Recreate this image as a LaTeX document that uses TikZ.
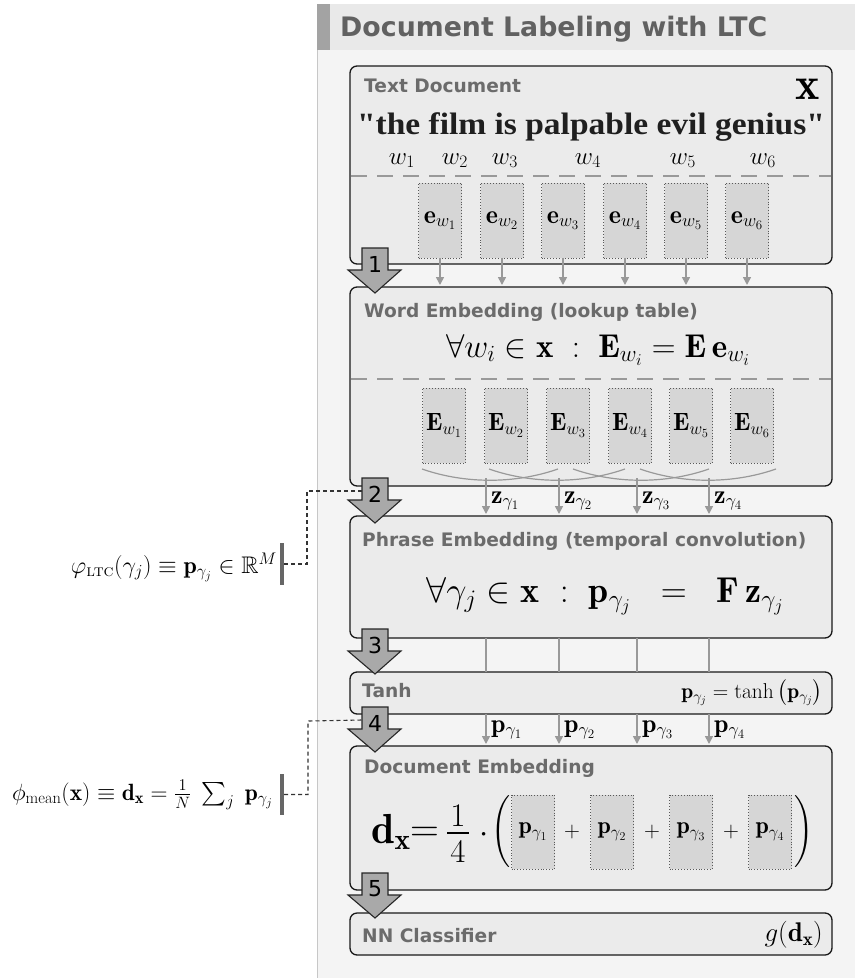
\RequirePackage{fix-cm}
\documentclass[tikz,border=0pt]{standalone}
\usepackage{fontspec}
\usepackage{amsmath,amssymb}
\usetikzlibrary{arrows.meta,calc}
\newfontfamily\dv{DejaVu Sans}
\newfontfamily\qf[FakeStretch=1.08]{Liberation Serif}
\definecolor{panel}{HTML}{F4F4F4}
\definecolor{header}{HTML}{E9E9E9}
\definecolor{hbar}{HTML}{A3A3A3}
\definecolor{boxfill}{HTML}{EBEBEB}
\definecolor{cellfill}{HTML}{D6D6D6}
\definecolor{titlegray}{HTML}{6B6B6B}
\definecolor{conn}{HTML}{999999}
\definecolor{bigarrow}{HTML}{A9A9A9}
\newcommand\fsz[1]{\fontsize{#1}{#1}\selectfont}
\tikzset{
 stage/.style={draw=black!90, line width=1.3pt, rounded corners=7pt, fill=boxfill, inner sep=0pt, outer sep=0pt, minimum width=482pt},
 cell/.style={draw=black!65, dotted, line width=0.9pt, fill=cellfill, minimum width=43pt, inner sep=0pt},
 stagetitle/.style={anchor=base west, inner sep=0pt, text=titlegray, font=\dv\bfseries\fsz{18.6}},
 sepline/.style={draw=conn, line width=1.6pt, dash pattern=on 16pt off 10pt},
 flow/.style={draw=conn, line width=1.6pt, -{Triangle[length=8pt,width=8pt]}},
 plainconn/.style={draw=conn, line width=1.6pt},
 bigarr/.style={fill=bigarrow, draw=black!85, line width=1.1pt, line join=miter},
 note/.style={draw=black!80, line width=1.1pt, dash pattern=on 4pt off 3pt},
 notebar/.style={fill=black!60, minimum width=4pt, inner sep=0pt, outer sep=0pt},
 lbl/.style={anchor=base west, inner sep=0pt, font=\fsz{26}},
}
\begin{document}
\begin{tikzpicture}[x=1pt,y=-1pt]
\useasboundingbox[fill=white] (0,0) rectangle (855,978);
% panel
\fill[panel] (317,50) rectangle (855,978);
\fill[header] (317,4) rectangle (855,50);
\fill[hbar] (317,4) rectangle (330,50);
\draw[black!22, line width=1pt] (317.5,50) -- (317.5,978);
\node[anchor=base west, inner sep=0pt, font=\dv\bfseries\fsz{26.8}, text=black!62] (title) at (340,36) {Document Labeling with LTC};

% stage boxes
\node[stage, minimum height=198pt] (td) at (591,165) {};
\node[stage, minimum height=199pt] (we) at (591,386.5) {};
\node[stage, minimum height=122pt] (pe) at (591,577) {};
\node[stage, minimum height=42pt] (th) at (591,693) {};
\node[stage, minimum height=144pt] (de) at (591,818) {};
\node[stage, minimum height=42pt] (nn) at (591,934) {};

% Text document
\node[stagetitle] (tdt) at (364,92) {Text Document};
\node[anchor=base east, inner sep=0pt, font=\fsz{46}] (xvec) at (820,99) {$\mathbf{x}$};
\node[anchor=base, inner sep=0pt, font=\qf\bfseries\fsz{31}, text=black!88] (quote) at (591,134) {"the film is palpable evil genius"};
\foreach \x/\i in {402/1,455/2,505/3,588/4,683/5,763/6}
  \node[anchor=base, inner sep=0pt, font=\fsz{25}] (w\i) at (\x,164) {$w_{\i}$};
\draw[sepline] (351,176) -- (831,176);
\foreach \x/\i in {440/1,502/2,563/3,625/4,686/5,747/6}
  \node[cell, minimum height=75pt, font=\fsz{26}] (e\i) at (\x,220.5) {$\mathbf{e}_{w_{\i}}$};
\foreach \i in {1,...,6}
  \draw[flow, shorten >=2pt] (e\i.south) -- (e\i.south |- we.north);

% Word embedding
\node[stagetitle] (wet) at (364,317) {Word Embedding (lookup table)};
\node[anchor=base, inner sep=0pt, font=\fsz{33}] (weq) at (598,357) {$\forall w_i \in \mathbf{x} \;:\; \mathbf{E}_{w_i} = \mathbf{E}\,\mathbf{e}_{w_i}$};
\draw[sepline] (351,379) -- (831,379);
\foreach \x/\i in {444/1,506/2,568/3,630/4,691/5,752/6}
  \node[cell, minimum height=75pt, font=\fsz{25}] (E\i) at (\x,425.5) {$\mathbf{E}_{w_{\i}}$};
\foreach \x in {490,557,641,708}
  \draw[plainconn, line width=1.2pt] (\x-68,469) .. controls (\x-25,484) and (\x+25,484) .. (\x+68,469);
\foreach \x/\i in {486/1,559/2,637/3,709/4}{
  \coordinate (zs\i) at (\x,478);
  \draw[flow, shorten >=2pt] (zs\i) -- (zs\i |- pe.north);
  \node[lbl] (zl\i) at (\x+5,503) {$\mathbf{z}_{\gamma_{\i}}$};
}

% Phrase embedding
\node[stagetitle] (pet) at (362,546) {Phrase Embedding (temporal convolution)};
\node[anchor=base, inner sep=0pt, font=\fsz{36}] (peq) at (605,602) {$\forall\gamma_j \in \mathbf{x} \;:\; \mathbf{p}_{\gamma_j} \;\;=\;\; \mathbf{F}\,\mathbf{z}_{\gamma_j}$};
\foreach \i in {1,...,4}
  \draw[plainconn] (zs\i |- pe.south) -- (zs\i |- th.north);

% Tanh
\node[stagetitle] (tht) at (362,697) {Tanh};
\node[anchor=base east, inner sep=0pt, font=\fsz{21.5}] (theq) at (823,698) {$\mathbf{p}_{\gamma_j} = \tanh\left(\mathbf{p}_{\gamma_j}\right)$};
\foreach \x/\i in {486/1,559/2,637/3,709/4}{
  \draw[flow, shorten >=2pt] (zs\i |- th.south) -- (zs\i |- de.north);
  \node[lbl] (pl\i) at (\x+5,732) {$\mathbf{p}_{\gamma_{\i}}$};
}

% Document embedding
\node[stagetitle] (det) at (364,773) {Document Embedding};
\node[anchor=base west, inner sep=0pt, font=\fsz{42}] (dx) at (371,843) {$\mathbf{d}_{\mathbf{x}}$};
\node[anchor=base west, inner sep=0pt, font=\fsz{40}] (deq) at (410,841) {$=$};
\node[inner sep=0pt, font=\fsz{33}] (one) at (458,816) {1};
\node[inner sep=0pt, font=\fsz{33}] (four) at (458,851) {4};
\draw[black, line width=1.3pt] (447,833) -- (469,833);
\node[anchor=base, inner sep=0pt, font=\fsz{33}] (cdot) at (484,842) {$\cdot$};
\node[inner sep=0pt, font=\fsz{24}] (lp) at (502,833) {$\left(\vrule height 32pt depth 32pt width 0pt\right.$};
\node[inner sep=0pt, font=\fsz{24}] (rp) at (803,833) {$\left.\vrule height 32pt depth 32pt width 0pt\right)$};
\foreach \x/\i in {533/1,612/2,691/3,770/4}
  \node[cell, minimum height=74pt, font=\fsz{24}] (P\i) at (\x,832) {$\mathbf{p}_{\gamma_{\i}}$};
\foreach \x/\i in {572/1,652/2,731/3}
  \node[inner sep=0pt, font=\fsz{22}] (plus\i) at (\x,832) {$+$};

% NN classifier
\node[stagetitle] (nnt) at (362,942) {NN Classifier};
\node[anchor=base east, inner sep=0pt, font=\fsz{27}] (geq) at (823,941) {$g(\mathbf{d}_{\mathbf{x}})$};

% numbered block arrows
\foreach \y/\n in {248/1,478/2,629/3,707/4,873/5}{
  \draw[bigarr] (362,\y) -- (388,\y) -- (388,\y+22) -- (401,\y+22) -- (375,\y+45) -- (348,\y+22) -- (362,\y+22) -- cycle;
  \node[inner sep=0pt, font=\dv\fsz{22}] (num\n) at (375,\y+16) {\n};
  \coordinate (a\n) at (362,\y+13);
}

% side annotations
\node[anchor=base east, inner sep=0pt, font=\fsz{24}] (phi) at (277,573) {$\varphi_{\text{\textsc{ltc}}}(\gamma_j) \equiv \mathbf{p}_{\gamma_j} \in \mathbb{R}^M$};
\node[notebar, minimum height=42pt] (bar1) at (282,564) {};
\coordinate (cn1) at (307,491);
\draw[note] (bar1.east) -| (cn1) -- (a2);

\node[anchor=base east, inner sep=0pt, font=\fsz{23.5}] (phimean) at (273,800) {$\phi_{\mathrm{mean}}(\mathbf{x}) \equiv \mathbf{d}_{\mathbf{x}} = \frac{1}{N}\;\sum_j\;\mathbf{p}_{\gamma_j}$};
\node[notebar, minimum height=41pt] (bar2) at (282,794.5) {};
\coordinate (cn2) at (308,721);
\draw[note] (bar2.east) -| (cn2) -- (a4);
\end{tikzpicture}
\end{document}
